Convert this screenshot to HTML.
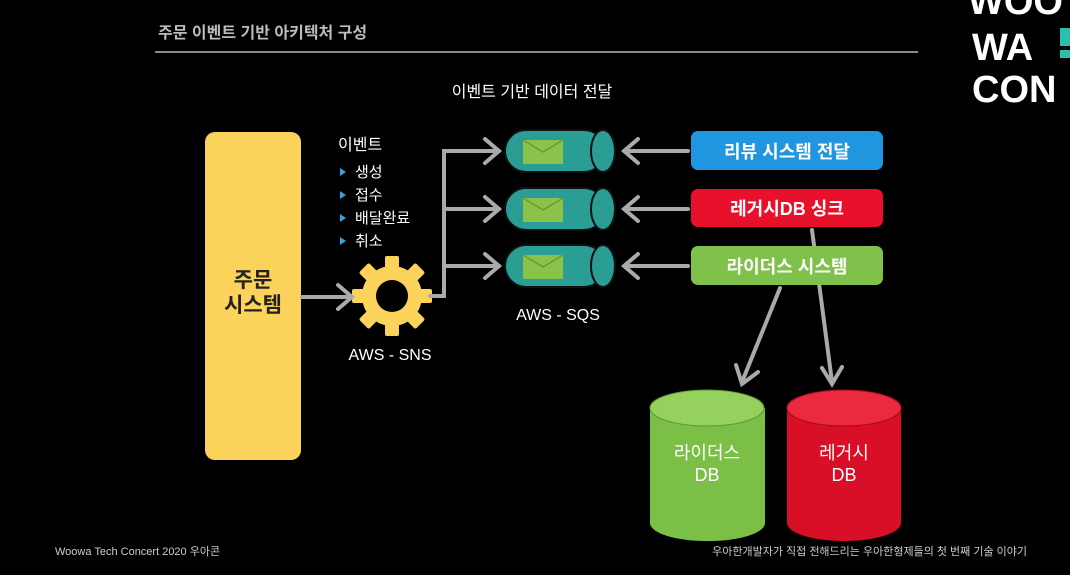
<!DOCTYPE html>
<html><head><meta charset="utf-8"><style>
body{margin:0;background:#000;width:1070px;height:570px;overflow:hidden;font-family:"Liberation Sans","Noto Sans CJK KR",sans-serif}
</style></head><body>
<svg width="1070" height="570" xmlns="http://www.w3.org/2000/svg" font-family="Liberation Sans, Noto Sans CJK KR, sans-serif">
<rect width="1070" height="570" fill="#000"/>
<text x="158" y="38" fill="#bbb" font-size="16" font-weight="bold">주문 이벤트 기반 아키텍처 구성</text>
<line x1="155" y1="52" x2="918" y2="52" stroke="#888" stroke-width="2"/>
<g fill="#fff" font-size="38" font-weight="bold" font-family="Liberation Sans, sans-serif">
<text x="968" y="14">WOO</text><text x="972" y="60">WA</text><rect x="1060" y="28" width="10" height="18" fill="#2bbfae"/><rect x="1060" y="50" width="10" height="8" fill="#2bbfae"/><text x="972" y="102">CON</text></g>
<text x="532" y="97" fill="#fff" font-size="16" text-anchor="middle">이벤트 기반 데이터 전달</text>
<rect x="205" y="132" width="96" height="328" rx="10" fill="#fcd35a"/>
<text x="253" y="287" font-size="21" font-weight="bold" text-anchor="middle" fill="#222">주문</text>
<text x="253" y="312" font-size="21" font-weight="bold" text-anchor="middle" fill="#222">시스템</text>
<text x="338" y="150" fill="#fff" font-size="16">이벤트</text>
<g fill="#3aa0dd"><path d="M340 168l6 4-6 4z"/><path d="M340 191l6 4-6 4z"/><path d="M340 214l6 4-6 4z"/><path d="M340 237l6 4-6 4z"/></g>
<g fill="#fff" font-size="15"><text x="355" y="177">생성</text><text x="355" y="200">접수</text><text x="355" y="223">배달완료</text><text x="355" y="246">취소</text></g>
<g transform="translate(392,296)" fill="#fcd35a">
<circle r="30"/>
<g id="t"><rect x="-7" y="-40" width="14" height="14" rx="2"/></g>
<use href="#t" transform="rotate(45)"/><use href="#t" transform="rotate(90)"/><use href="#t" transform="rotate(135)"/><use href="#t" transform="rotate(180)"/><use href="#t" transform="rotate(225)"/><use href="#t" transform="rotate(270)"/><use href="#t" transform="rotate(315)"/>
<circle r="16" fill="#000"/>
</g>
<text x="390" y="360" fill="#fff" font-size="16" text-anchor="middle">AWS - SNS</text>
<g stroke="#aaa" stroke-width="4" fill="none" stroke-linecap="round">
<line x1="302" y1="297" x2="350" y2="297"/><path d="M338 285l14 12-14 12"/>
<path d="M430 296h14V151h55"/><path d="M444 209h55"/><path d="M444 266h55"/>
<path d="M485 139l14 12-14 12"/><path d="M485 197l14 12-14 12"/><path d="M485 254l14 12-14 12"/>
<line x1="688" y1="151" x2="625" y2="151"/><path d="M638 139l-14 12 14 12"/>
<line x1="688" y1="209" x2="625" y2="209"/><path d="M638 197l-14 12 14 12"/>
<line x1="688" y1="266" x2="625" y2="266"/><path d="M638 254l-14 12 14 12"/>
<line x1="780" y1="288" x2="742" y2="382"/><path d="M736 365l6 19 16-12"/>
<line x1="812" y1="230" x2="832" y2="382"/><path d="M822 368l10 16 10-17"/>
</g>
<g id="q">
<rect x="505" y="130" width="100" height="42" rx="21" fill="#2a9d95" stroke="#111" stroke-width="2"/>
<ellipse cx="603" cy="151" rx="12" ry="21" fill="#2a9d95" stroke="#111" stroke-width="2"/>
<rect x="523" y="140" width="40" height="24" fill="#8bc34a"/>
<path d="M523 140l20 12 20-12" stroke="#6a9a30" fill="none" stroke-width="1.5"/>
</g>
<use href="#q" y="58"/><use href="#q" y="115"/>
<text x="558" y="320" fill="#fff" font-size="16" text-anchor="middle">AWS - SQS</text>
<rect x="691" y="131" width="192" height="39" rx="7" fill="#2196e0"/>
<text x="787" y="158" fill="#fff" font-size="18" font-weight="bold" text-anchor="middle">리뷰 시스템 전달</text>
<rect x="691" y="189" width="192" height="38" rx="7" fill="#e8102a"/>
<text x="787" y="215" fill="#fff" font-size="18" font-weight="bold" text-anchor="middle">레거시DB 싱크</text>
<rect x="691" y="246" width="192" height="39" rx="7" fill="#7fc14a"/>
<text x="787" y="273" fill="#fff" font-size="18" font-weight="bold" text-anchor="middle">라이더스 시스템</text>
<path d="M650 408v115a57 18 0 0 0 115 0V408z" fill="#7bbf47"/>
<ellipse cx="707" cy="408" rx="57" ry="18" fill="#95d15e" stroke="#5e9a34" stroke-width="1"/>
<path d="M787 408v115a57 18 0 0 0 114 0V408z" fill="#d80f26"/>
<ellipse cx="844" cy="408" rx="57" ry="18" fill="#ec2a3e" stroke="#a80a1c" stroke-width="1"/>
<g fill="#fff" font-size="18" text-anchor="middle"><text x="707" y="459">라이더스</text><text x="707" y="481">DB</text><text x="844" y="459">레거시</text><text x="844" y="481">DB</text></g>
<text x="55" y="555" fill="#ccc" font-size="11">Woowa Tech Concert  2020 우아콘</text>
<text x="1027" y="555" fill="#ccc" font-size="11" text-anchor="end">우아한개발자가 직접 전해드리는 우아한형제들의 첫 번째 기술 이야기</text>
</svg>
</body></html>
